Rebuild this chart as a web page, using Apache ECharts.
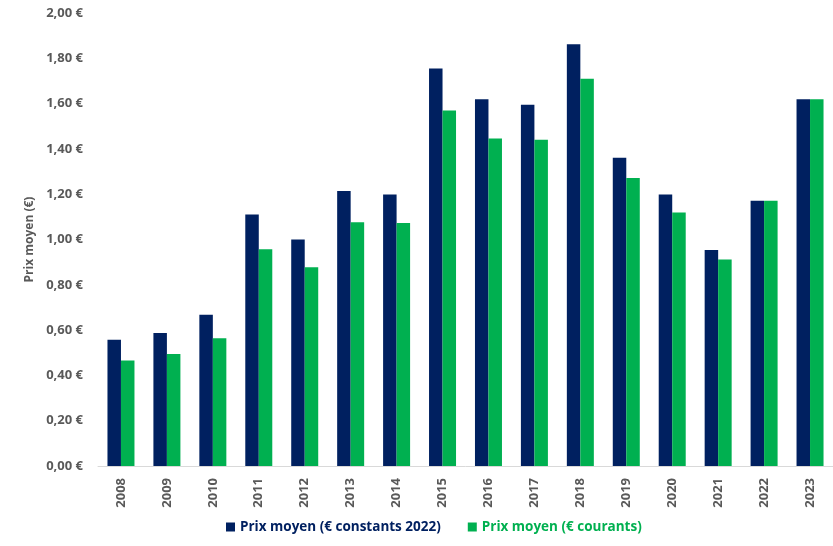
<!DOCTYPE html>
<html><head><meta charset="utf-8">
<script src="https://cdn.jsdelivr.net/npm/echarts@6/dist/echarts.min.js"></script>
<style>html,body{margin:0;padding:0;background:#fff}#c{width:833px;height:546px}</style>
</head><body><div id="c"></div>
<script>
const years = ['2008','2009','2010','2011','2012','2013','2014','2015','2016','2017','2018','2019','2020','2021','2022','2023'];
const constants2022 = [0.557,0.587,0.668,1.110,1.000,1.214,1.199,1.755,1.619,1.595,1.862,1.361,1.199,0.954,1.171,1.619];
const courants = [0.466,0.494,0.564,0.957,0.878,1.076,1.073,1.569,1.446,1.440,1.710,1.271,1.119,0.912,1.171,1.619];
const seriesNames = ['Prix moyen (€ constants 2022)','Prix moyen (€ courants)'];
const yTicks = {min:0,max:2,interval:0.2};
const navy = '#002060', green = '#00B050';
const font = 'Open Sans';
const chart = echarts.init(document.getElementById('c'));
chart.setOption({
  animation:false,
  textStyle:{fontFamily:font},
  grid:{left:98,right:-5,top:13,bottom:80,containLabel:false},
  legend:{
    bottom:7,left:221,itemWidth:9,itemHeight:9,itemGap:27,icon:'rect',
    textStyle:{fontFamily:font,fontWeight:'bold',fontSize:13.5},
    data:[{name:seriesNames[0],textStyle:{color:navy}},{name:seriesNames[1],textStyle:{color:green}}]
  },
  xAxis:{type:'category',data:years,
    axisLine:{lineStyle:{color:'#d9d9d9',width:1}},axisTick:{show:false},
    axisLabel:{rotate:90,color:'#595959',fontWeight:'bold',fontSize:13,margin:12,fontFamily:font}},
  yAxis:{type:'value',min:yTicks.min,max:yTicks.max,interval:yTicks.interval,
    name:'Prix moyen (€)',nameLocation:'middle',nameGap:61,
    nameTextStyle:{color:'#595959',fontWeight:'bold',fontSize:12,fontFamily:font},
    splitLine:{show:false},axisLine:{show:false},axisTick:{show:false},
    axisLabel:{color:'#595959',fontWeight:'bold',fontSize:13,margin:15,fontFamily:font,
      formatter:v=>v.toFixed(2).replace('.',',')+' €'}},
  series:[
    {name:seriesNames[0],type:'bar',data:constants2022,barWidth:13.5,barGap:'0%',itemStyle:{color:navy}},
    {name:seriesNames[1],type:'bar',data:courants,barWidth:13.5,barGap:'0%',itemStyle:{color:green}}
  ]
});
</script></body></html>
